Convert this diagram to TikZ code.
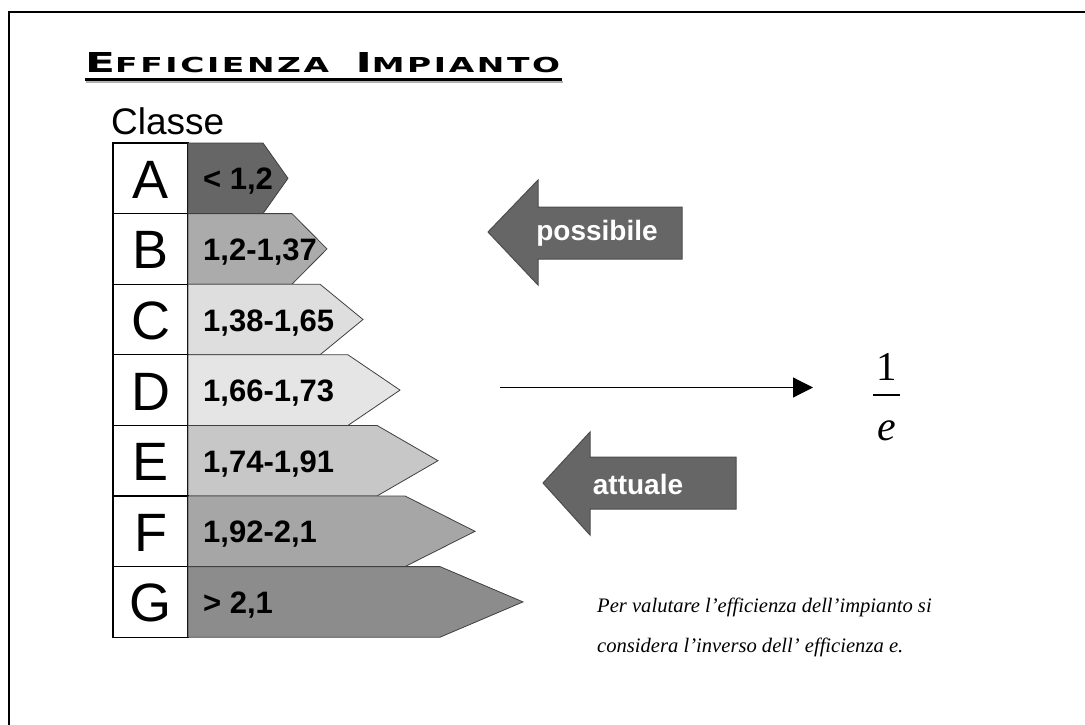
\documentclass[tikz,border=0pt]{standalone}
\usepackage{fontspec}
\usepackage{graphicx}
\setmainfont{Liberation Serif}
\setsansfont{Liberation Sans}
\newfontfamily\titlefont{DejaVu Sans}[LetterSpace=8]
\usetikzlibrary{arrows.meta,positioning}
\definecolor{clsA}{gray}{0.40}
\definecolor{clsB}{gray}{0.67}
\definecolor{clsC}{gray}{0.87}
\definecolor{clsD}{gray}{0.90}
\definecolor{clsE}{gray}{0.78}
\definecolor{clsF}{gray}{0.65}
\definecolor{clsG}{gray}{0.55}
\definecolor{arrgray}{gray}{0.40}
\newcommand{\capsc}[2]{{\fontsize{20}{20}\selectfont #1}{\fontsize{15}{15}\selectfont #2}}
\tikzset{
	classcell/.style={draw=black, line width=1.2pt, fill=white},
	classbar/.style={draw=black!75, line width=0.8pt},
	classletter/.style={font=\sffamily\fontsize{54}{54}\selectfont, anchor=base, inner sep=0pt},
	rangelabel/.style={font=\sffamily\bfseries\fontsize{31}{31}\selectfont, anchor=base west, inner sep=0pt},
	bigarrow/.style={fill=arrgray, draw=black!70, line width=1pt},
	arrtext/.style={font=\sffamily\bfseries\fontsize{28}{28}\selectfont, text=white, inner sep=0pt},
	notetext/.style={font=\itshape\fontsize{20.6}{20.6}\selectfont, anchor=base west, inner sep=0pt}
}

\begin{document}
\begin{tikzpicture}[x=1pt,y=-1pt]
        \useasboundingbox (0,0) rectangle (1085,725);
        \draw[line width=2pt] (9,725) -- (9,12) -- (1085,12);
        % titolo
        \node[anchor=base west, inner sep=0pt] (titolo) at (85,72)
            {\resizebox{475pt}{20pt}{\titlefont\bfseries \capsc{E}{FFICIENZA}\hspace{12pt}\capsc{I}{MPIANTO}}};
        \draw[gray!60, line width=1.5pt] (86,82) -- (563,82);
        \draw[line width=2.2pt] (85,79.5) -- (562,79.5);
        \node[anchor=base west, inner sep=0pt, font=\sffamily\fontsize{37}{37}\selectfont] (classe) at (111,135) {Classe};
        % scala delle classi
        \foreach \cls/\rng/\bodyx/\tipx/\col [count=\i from 0] in {
                A/{< 1,2}/263/288/clsA,
                B/{1,2-1,37}/292/327/clsB,
                C/{1,38-1,65}/320/363/clsC,
                D/{1,66-1,73}/348/400/clsD,
                E/{1,74-1,91}/377/438/clsE,
                F/{1,92-2,1}/405/475/clsF,
                G/{> 2,1}/440/523/clsG} {
            \pgfmathsetmacro\yT{143+70.6*\i}
            \pgfmathsetmacro\yB{\yT+70.6}
            \pgfmathsetmacro\yM{\yT+35.3}
            \draw[classcell] (113,\yT) rectangle (188,\yB);
            \draw[classbar, fill=\col] (188,\yT) -- (\bodyx,\yT) -- (\tipx,\yM) -- (\bodyx,\yB) -- (188,\yB) -- cycle;
            \node[classletter] (cls\cls) at (150.5,\yM+20) {\cls};
            \node[rangelabel] (rng\cls) at (203,\yM+11.5) {\rng};
        }
        % frecce
        \draw[bigarrow] (488,232) -- (538,180) -- (538,207) -- (682,207) -- (682,259) -- (538,259) -- (538,285) -- cycle;
        \node[arrtext] (possibile) at (597,233) {possibile};
        \draw[bigarrow] (543,483) -- (590,432) -- (590,457) -- (736,457) -- (736,509) -- (590,509) -- (590,535) -- cycle;
        \node[arrtext] (attuale) at (638,484) {attuale};
        % 1/e
        \node[anchor=base, inner sep=0pt, font=\fontsize{41}{41}\selectfont] (num) at (887,380) {1};
        \node[anchor=base, inner sep=0pt, font=\itshape\fontsize{42}{42}\selectfont] (den) at (887,440) {e};
        \draw[line width=1.4pt] (873,395) -- (900,395);
        \coordinate (lineS) at (500,387.5);
        \coordinate (lineE) at (813,387.5);
        \draw[line width=1.2pt, -{Triangle[length=20pt,width=20pt]}] (lineS) -- (lineE);
        \node[notetext] (nota1) at (597,612) {Per valutare l’efficienza dell’impianto si};
        \node[notetext] (nota2) at (597,652) {considera l’inverso dell’ efficienza e.};
\end{tikzpicture}
\end{document}
